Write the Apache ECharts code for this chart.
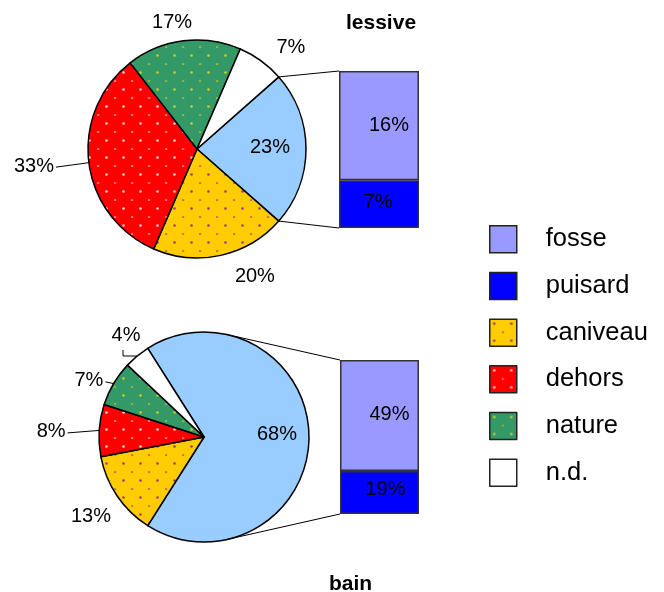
<!DOCTYPE html>
<html><head><meta charset="utf-8">
<script src="https://cdn.jsdelivr.net/npm/echarts@6/dist/echarts.min.js"></script>
<style>html,body{margin:0;padding:0;background:#fff}#c{width:664px;height:592px}</style>
</head><body><div id="c"></div>
<script>
// ---------- data ----------
const sliceNames = ['fosse + puisard', 'caniveau', 'dehors', 'nature', 'n.d.'];
const barNames = ['fosse', 'puisard'];
const legendNames = ['fosse', 'puisard', 'caniveau', 'dehors', 'nature', 'n.d.'];
const panelTitles = ['lessive', 'bain'];
const lessivePie = [23, 20, 33, 17, 7];
const lessiveBar = [16, 7];
const bainPie = [68, 13, 8, 7, 4];
const bainBar = [49, 19];

// ---------- styles ----------
const FONT = '"Liberation Sans", Arial, sans-serif';
function pattern(bg, dot) {
  const c = document.createElement('canvas');
  c.width = 17; c.height = 17;
  const g = c.getContext('2d');
  g.fillStyle = bg; g.fillRect(0, 0, 17, 17);
  g.fillStyle = dot;
  g.beginPath(); g.arc(4.5, 4.5, 1.3, 0, Math.PI * 2); g.fill();
  g.fillRect(12, 12.5, 2.2, 1.1);
  return { image: c, repeat: 'repeat' };
}
const sliceFills = ['#99CCFF', pattern('#FFCC00', '#9B3D8C'), pattern('#FF0000', '#FFD0D0'), pattern('#339966', '#D6CC22'), '#FFFFFF'];
const barFills = ['#9999FF', '#0000FF'];
const pieGeo = [{ cx: 197, cy: 149, r: 109 }, { cx: 204, cy: 437, r: 105 }];
const barGrid = [{ left: 339, top: 71, width: 80, height: 157 }, { left: 340, top: 360, width: 79, height: 154 }];
// label placement: [radial distance px, angular offset deg]
const labelPolar = [
  [[73, 1.5], [139.6, 11.9], [164, -1.2], [129.4, 3.9], [138, -6.9]],
  [[73, 1.6], [138, 0.8], [153, 1.7], [128, 4.6], [128.4, -2.2]]
];
const leaderItems = [[2], [2, 3, 4]];
const barLabelOffsets = [[[10, 0], [-1, -2]], [[10, -1], [6, -3]]];
const titlePos = [{ left: 346, top: 13 }, { left: 329, top: 574 }];

const pies = [lessivePie, bainPie];
const bars = [lessiveBar, bainBar];
const sum = a => a.reduce((s, v) => s + v, 0);
const rad = d => d * Math.PI / 180;
const norm = d => ((d % 360) + 360) % 360;

function sliceAngles(vals) {
  const tot = sum(vals);
  let a = vals[0] / tot * 180;
  return vals.map(v => { const s = a, e = a - v / tot * 360; a = e; return { s, e, m: (s + e) / 2 }; });
}
const angles = pies.map(sliceAngles);
function polar(k, R, deg) {
  const g = pieGeo[k];
  return [g.cx + R * Math.cos(rad(deg)), g.cy - R * Math.sin(rad(deg))];
}
function labelPoint(k, i) {
  const [R, d] = labelPolar[k][i];
  return polar(k, R, angles[k][i].m + d);
}

const series = [];
pies.forEach((vals, k) => {
  series.push({
    type: 'pie',
    name: panelTitles[k],
    center: [pieGeo[k].cx, pieGeo[k].cy],
    radius: pieGeo[k].r,
    startAngle: angles[k][0].s,
    clockwise: true,
    avoidLabelOverlap: false,
    silent: true,
    label: { show: true, position: 'outside', formatter: '{c}%', fontSize: 20, color: '#000', fontFamily: FONT },
    labelLine: { show: false },
    itemStyle: { borderColor: '#000', borderWidth: 1.5 },
    emphasis: { disabled: true },
    labelLayout: p => {
      const [x, y] = labelPoint(k, p.dataIndex);
      return { x, y, align: 'center', verticalAlign: 'middle' };
    },
    data: vals.map((v, i) => ({ name: sliceNames[i], value: v, itemStyle: { color: sliceFills[i] } }))
  });
});
bars.forEach((vals, k) => {
  // stack bottom-up: puisard first, then fosse
  [1, 0].forEach(j => {
    series.push({
      type: 'bar',
      name: barNames[j],
      xAxisIndex: k, yAxisIndex: k,
      stack: 'b' + k,
      barWidth: '100%',
      silent: true,
      itemStyle: { color: barFills[j], borderColor: '#333', borderWidth: 1.5 },
      label: { show: true, position: 'inside', formatter: '{c}%', fontSize: 20, color: '#000', fontFamily: FONT, offset: barLabelOffsets[k][j] },
      data: [vals[j]]
    });
  });
});

const chart = echarts.init(document.getElementById('c'), null, { renderer: 'canvas' });
const option = {
  animation: false,
  backgroundColor: '#fff',
  title: panelTitles.map((t, k) => ({ text: t, left: titlePos[k].left, top: titlePos[k].top, padding: 0,
    textStyle: { fontSize: 21, fontWeight: 'bold', color: '#000', fontFamily: FONT } })),
  legend: {
    data: legendNames, orient: 'vertical', left: 489, top: 225, padding: 0,
    itemWidth: 27, itemHeight: 27, itemGap: 18.2,
    icon: 'rect', selectedMode: false,
    itemStyle: { borderColor: '#222', borderWidth: 1.5 },
    textStyle: { fontSize: 25.5, lineHeight: 27, color: '#000', fontFamily: FONT, padding: [0, 0, 0, 24] }
  },
  grid: barGrid.map(g => ({ left: g.left, top: g.top, width: g.width, height: g.height })),
  xAxis: bars.map((b, k) => ({ type: 'category', gridIndex: k, data: [panelTitles[k]], show: false })),
  yAxis: bars.map((b, k) => ({ type: 'value', gridIndex: k, min: 0, max: sum(b), show: false })),
  series
};
chart.setOption(option);

// connector lines & leader lines, computed from geometry and the axes
const lines = [];
const lineStyle = { stroke: '#000', lineWidth: 1 };
pies.forEach((vals, k) => {
  const g = pieGeo[k];
  const x = barGrid[k].left;
  const yTop = chart.convertToPixel({ yAxisIndex: k }, sum(bars[k]));
  const yBot = chart.convertToPixel({ yAxisIndex: k }, 0);
  const half = angles[k][0].s;
  [[yTop, 1], [yBot, -1]].forEach(([py, sgn]) => {
    const vx = x - g.cx, vy = g.cy - py;
    const d = Math.hypot(vx, vy);
    const phi = Math.atan2(vy, vx) * 180 / Math.PI;
    const alpha = Math.acos(g.r / d) * 180 / Math.PI;
    const tangent = phi + sgn * alpha;
    const ang = sgn > 0 ? Math.min(half, tangent) : Math.max(-half, tangent);
    const p = polar(k, g.r, ang);
    lines.push({ type: 'polyline', shape: { points: [p, [x, py]] }, style: lineStyle, silent: true, z: 10 });
  });
  const cv = document.createElement('canvas').getContext('2d');
  cv.font = '20px ' + FONT;
  leaderItems[k].forEach(i => {
    const [lx, ly] = labelPoint(k, i);
    const m = norm(angles[k][i].m);
    const edge = polar(k, g.r, m);
    let pts;
    if (Math.abs(m - 90) < 45) {
      pts = [[lx - 3, ly + 15], [lx - 3, ly + 21], [lx + 4, ly + 21], edge];
    } else {
      const hw = cv.measureText(vals[i] + '%').width / 2;
      pts = [[lx + hw + 2, ly + 1], edge];
    }
    lines.push({ type: 'polyline', shape: { points: pts }, style: lineStyle, silent: true, z: 10 });
  });
});
chart.setOption({ graphic: lines });
</script>
</body></html>
